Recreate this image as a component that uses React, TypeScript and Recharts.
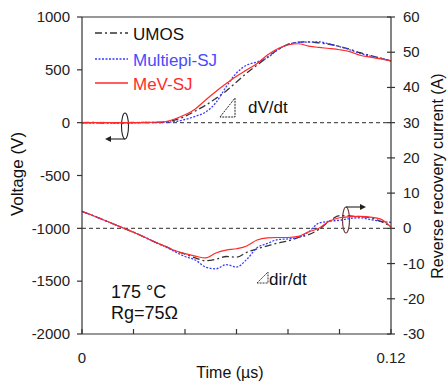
import React from 'react';
import { ComposedChart, Line, XAxis, YAxis, ReferenceLine, Customized } from 'recharts';

const timeUs = [0, 0.004, 0.008, 0.012, 0.016, 0.02, 0.024, 0.028, 0.032, 0.036, 0.04, 0.044, 0.048, 0.052, 0.056, 0.06, 0.064, 0.068, 0.072, 0.076, 0.08, 0.084, 0.088, 0.092, 0.096, 0.1, 0.104, 0.108, 0.112, 0.116, 0.12];

const umosV = [0, 2, -3, 0, -4, 2, 0, 3, 5, 25, 60, 110, 165, 230, 300, 385, 470, 545, 620, 690, 740, 762, 765, 755, 742, 722, 695, 662, 635, 610, 585];
const multiepiV = [0, -3, 2, -4, 0, -2, 3, 0, 2, 10, 30, 60, 100, 190, 340, 470, 545, 575, 615, 690, 740, 760, 762, 765, 745, 720, 690, 655, 630, 610, 585];
const mevV = [0, 0, 0, 0, 0, 0, 2, 4, 8, 35, 75, 130, 215, 295, 370, 440, 500, 560, 640, 700, 735, 747, 725, 712, 702, 690, 672, 638, 620, 603, 585];

const umosI = [4.8, 3.7, 2.5, 1.3, 0.1, -1.1, -2.4, -3.8, -5.0, -6.3, -7.3, -8.4, -9.2, -8.8, -8.0, -8.2, -6.8, -5.8, -5.0, -4.2, -3.6, -2.6, -1.8, -0.3, 2.0, 3.6, 3.5, 3.3, 3.0, 2.0, 0.5];
const multiepiI = [4.8, 3.7, 2.5, 1.3, 0.1, -1.1, -2.4, -3.8, -5.1, -6.6, -8.0, -9.0, -11.0, -11.5, -10.3, -11.0, -8.8, -5.5, -4.3, -3.2, -3.0, -2.6, -1.0, 1.5, 2.0, 2.3, 2.8, 3.0, 2.5, 2.0, 1.7];
const mevI = [4.8, 3.7, 2.5, 1.3, 0.1, -1.1, -2.4, -3.8, -5.0, -6.3, -7.2, -7.9, -8.4, -7.0, -6.2, -5.8, -5.0, -3.3, -2.7, -2.6, -2.6, -2.3, -1.0, 0.0, 2.0, 3.0, 3.3, 3.4, 3.2, 2.6, 0.3];

const xTicks = [0, 0.02, 0.04, 0.06, 0.08, 0.1, 0.12];
const leftTicks = [1000, 500, 0, -500, -1000, -1500, -2000];
const rightTicks = [60, 50, 40, 30, 20, 10, 0, -10, -20, -30];

const data = timeUs.map((t, i) => ({
  t,
  uV: umosV[i],
  mV: multiepiV[i],
  rV: mevV[i],
  uI: umosI[i],
  mI: multiepiI[i],
  rI: mevI[i],
}));

const FONT = '"Liberation Sans", Arial, sans-serif';
const AX = '#333';
const TXT = '#222';
const BLUE = '#3a3aff';
const RED = '#ff2a2a';
const BLACK = '#333';

const XTick = (props: any) => {
  const { x, y, payload } = props;
  const v = payload.value;
  let label = '';
  if (v === 0) label = '0';
  else if (Math.abs(v - 0.12) < 1e-9) label = '0.12';
  return (
    <g>
      <line x1={x} x2={x} y1={y} y2={y - 5} stroke={AX} strokeWidth={1.2} />
      {label && (
        <text x={x} y={y + 29} textAnchor="middle" fontSize={15} fill={TXT} fontFamily={FONT}>
          {label}
        </text>
      )}
    </g>
  );
};

const RTick = (props: any) => {
  const { x, y, payload } = props;
  return (
    <g>
      <line x1={x - 4} x2={x + 4} y1={y} y2={y} stroke={AX} strokeWidth={1.2} />
      <text x={x + 12} y={y + 5} textAnchor="start" fontSize={15} fill={TXT} fontFamily={FONT}>
        {payload.value}
      </text>
    </g>
  );
};

const Decor = () => (
  <g fontFamily={FONT}>
    {/* legend */}
    <line x1={95} x2={128} y1={33} y2={33} stroke={BLACK} strokeWidth={1.4} strokeDasharray="7 3 2 3" />
    <text x={133} y={40} fontSize={17} fill="#111">UMOS</text>
    <line x1={95} x2={128} y1={59} y2={59} stroke={BLUE} strokeWidth={1.4} strokeDasharray="2 1.5" />
    <text x={133} y={66} fontSize={17} fill="#4a4aff">Multiepi-SJ</text>
    <line x1={95} x2={128} y1={83} y2={83} stroke={RED} strokeWidth={1.4} />
    <text x={133} y={90} fontSize={17} fill={RED}>MeV-SJ</text>

    {/* left ellipse + arrow */}
    <ellipse cx={125} cy={126} rx={3.5} ry={13} fill="none" stroke="#222" strokeWidth={1.1} />
    <line x1={125} x2={110} y1={139} y2={139} stroke="#222" strokeWidth={1.1} />
    <polygon points="105,139 111,136 111,142" fill="#222" />

    {/* right ellipse + arrow */}
    <ellipse cx={346} cy={220} rx={3.5} ry={13} fill="none" stroke="#7a3a3a" strokeWidth={1.2} />
    <line x1={346} x2={361} y1={207} y2={207} stroke="#222" strokeWidth={1.1} />
    <polygon points="366,207 360,204 360,210" fill="#222" />

    {/* dV/dt */}
    <polygon points="220,117 235,98 235,117" fill="none" stroke="#222" strokeWidth={1} strokeDasharray="2 1" />
    <text x={248} y={113} fontSize={17} fill="#111">dV/dt</text>

    {/* dir/dt */}
    <polygon points="257,283 268,272 268,283" fill="none" stroke="#333" strokeWidth={1} strokeDasharray="2 1" />
    <text x={269} y={285} fontSize={17} fill="#111">dir/dt</text>

    {/* conditions */}
    <text x={111} y={298} fontSize={18} fill="#111">175 °C</text>
    <text x={111} y={319} fontSize={18} fill="#111">Rg=75Ω</text>

    {/* axis titles */}
    <text x={17} y={174} transform="rotate(-90 17 174)" textAnchor="middle" dominantBaseline="central" fontSize={17} fill="#111">
      Voltage (V)
    </text>
    <text x={437} y={176} transform="rotate(-90 437 176)" textAnchor="middle" dominantBaseline="central" fontSize={16} fill="#111">
      Reverse recovery current (A)
    </text>
    <text x={230} y={378} textAnchor="middle" fontSize={16} fill="#111">
      Time (µs)
    </text>
  </g>
);

export default function App() {
  return (
    <div style={{ position: 'absolute', left: 0, top: 0, background: '#fff' }}>
      <ComposedChart
        width={447}
        height={385}
        data={data}
        margin={{ top: 17, right: 6, bottom: 21, left: 22 }}
      >
        <XAxis
          dataKey="t"
          type="number"
          domain={[0, 0.12]}
          ticks={xTicks}
          tick={<XTick />}
          tickLine={false}
          tickSize={0}
          tickMargin={0}
          height={30}
          axisLine={{ stroke: AX, strokeWidth: 1.2 }}
          interval={0}
        />
        <YAxis
          yAxisId="left"
          domain={[-2000, 1000]}
          ticks={leftTicks}
          width={60}
          tickSize={5}
          tickMargin={7}
          interval={0}
          tick={{ fontSize: 15, fill: TXT, fontFamily: FONT }}
          tickLine={{ stroke: AX, strokeWidth: 1.2 }}
          axisLine={{ stroke: AX, strokeWidth: 1.2 }}
          allowDataOverflow
        />
        <YAxis
          yAxisId="right"
          orientation="right"
          domain={[-30, 60]}
          ticks={rightTicks}
          width={50}
          tickSize={0}
          tickMargin={0}
          interval={0}
          tick={<RTick />}
          tickLine={false}
          axisLine={{ stroke: AX, strokeWidth: 1.2 }}
          allowDataOverflow
        />
        <ReferenceLine yAxisId="left" y={1000} stroke={AX} strokeWidth={1.2} />
        <ReferenceLine yAxisId="left" y={0} stroke="#555" strokeWidth={1.1} strokeDasharray="4 3" />
        <ReferenceLine yAxisId="left" y={-1000} stroke="#555" strokeWidth={1.1} strokeDasharray="4 3" />

        <Line yAxisId="left" dataKey="uV" stroke={BLACK} strokeWidth={1.3} strokeDasharray="7 3 2 3" dot={false} isAnimationActive={false} type="monotone" />
        <Line yAxisId="left" dataKey="mV" stroke={BLUE} strokeWidth={1.3} strokeDasharray="2 1.5" dot={false} isAnimationActive={false} type="monotone" />
        <Line yAxisId="left" dataKey="rV" stroke={RED} strokeWidth={1.2} dot={false} isAnimationActive={false} type="monotone" />

        <Line yAxisId="right" dataKey="uI" stroke={BLACK} strokeWidth={1.3} strokeDasharray="7 3 2 3" dot={false} isAnimationActive={false} type="monotone" />
        <Line yAxisId="right" dataKey="mI" stroke={BLUE} strokeWidth={1.3} strokeDasharray="2 1.5" dot={false} isAnimationActive={false} type="monotone" />
        <Line yAxisId="right" dataKey="rI" stroke={RED} strokeWidth={1.2} dot={false} isAnimationActive={false} type="monotone" />

        <Customized component={Decor} />
      </ComposedChart>
    </div>
  );
}
